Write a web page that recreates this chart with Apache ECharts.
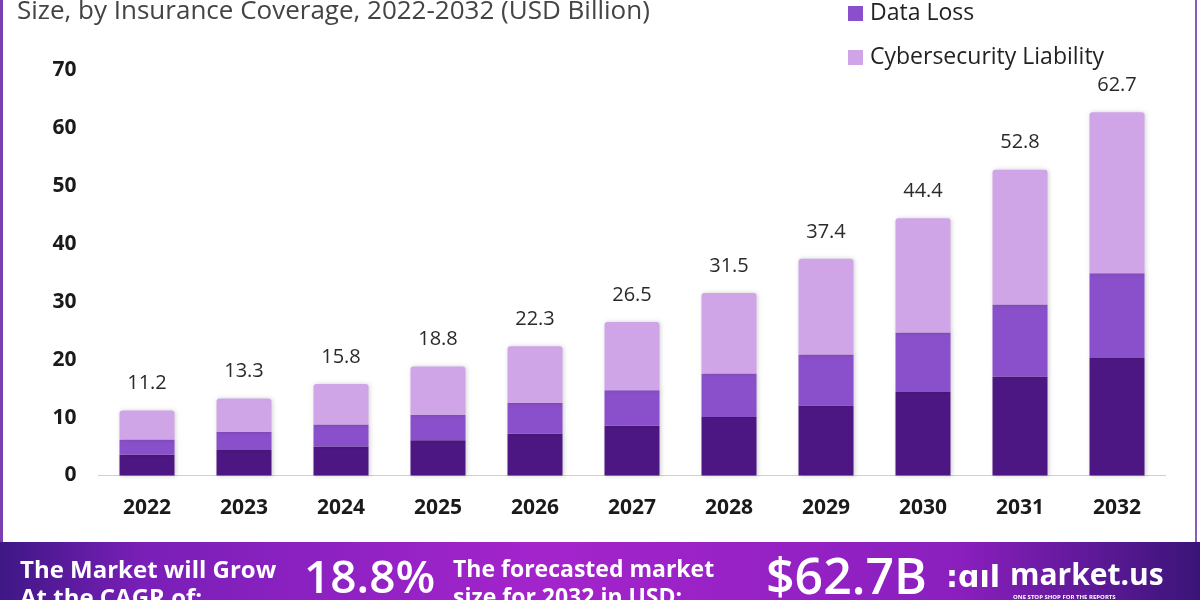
<!DOCTYPE html>
<html>
<head>
<meta charset="utf-8">
<script src="https://cdn.jsdelivr.net/npm/echarts@6/dist/echarts.min.js"></script>
<style>
html,body{margin:0;padding:0;background:#fff;}
#chart{width:1200px;height:600px;}
</style>
</head>
<body>
<div id="chart"></div>
<script>
// ---- data ----
const years = ['2022','2023','2024','2025','2026','2027','2028','2029','2030','2031','2032'];
const dataBreach = [3.6, 4.4, 5.0, 6.1, 7.2, 8.6, 10.1, 12.1, 14.4, 17.1, 20.3];
const dataLoss = [2.6, 3.1, 3.8, 4.4, 5.3, 6.1, 7.5, 8.8, 10.3, 12.4, 14.6];
const cyberLiability = [5.0, 5.8, 7.0, 8.3, 9.8, 11.8, 13.9, 16.5, 19.7, 23.3, 27.8];
const totals = [11.2, 13.3, 15.8, 18.8, 22.3, 26.5, 31.5, 37.4, 44.4, 52.8, 62.7];
const yTicks = [0, 10, 20, 30, 40, 50, 60, 70];

const chart = echarts.init(document.getElementById('chart'), null, {renderer: 'canvas'});

const barShadow = {shadowColor: 'rgba(0,0,0,0.18)', shadowBlur: 4, shadowOffsetX: 1, shadowOffsetY: 0};

const option = {
  backgroundColor: '#ffffff',
  animation: false,
  title: {
    text: 'Size, by Insurance Coverage, 2022-2032 (USD Billion)',
    left: 12, top: -6,
    textStyle: {fontFamily: 'Open Sans', fontWeight: 'normal', fontSize: 26, color: '#444'}
  },
  legend: {
    data: ['Data Loss', 'Cybersecurity Liability'],
    orient: 'vertical',
    left: 843, top: -3,
    itemWidth: 15, itemHeight: 15, itemGap: 21,
    icon: 'rect',
    textStyle: {fontFamily: 'Open Sans', fontSize: 23, color: '#222', padding: [0,0,0,2]}
  },
  grid: {left: 98.5, right: 34.5, top: 70, bottom: 124.5, containLabel: false},
  xAxis: {
    type: 'category',
    data: years,
    axisLine: {lineStyle: {color: '#d0d0d0', width: 1}},
    axisTick: {show: false},
    axisLabel: {fontFamily: 'Open Sans', fontWeight: 'bold', fontSize: 21, color: '#1a1a1a', margin: 22}
  },
  yAxis: {
    type: 'value',
    min: 0, max: 70, interval: 10,
    splitLine: {show: false},
    axisLine: {show: false},
    axisTick: {show: false},
    axisLabel: {fontFamily: 'Open Sans', fontWeight: 'bold', fontSize: 21, color: '#1a1a1a', margin: 22,
      formatter: v => yTicks.includes(v) ? String(v) : ''}
  },
  series: [
    {name: 'Data Breach', type: 'bar', stack: 'a', barWidth: 55, data: dataBreach,
      itemStyle: Object.assign({color: '#4d1783'}, barShadow)},
    {name: 'Data Loss', type: 'bar', stack: 'a', barWidth: 55, data: dataLoss,
      itemStyle: Object.assign({color: '#8a4fca'}, barShadow)},
    {name: 'Cybersecurity Liability', type: 'bar', stack: 'a', barWidth: 55, data: cyberLiability,
      itemStyle: Object.assign({color: '#d0a5e8', borderRadius: [3,3,0,0]}, barShadow),
      label: {show: true, position: 'top', distance: 17,
        fontFamily: 'Open Sans', fontSize: 20, color: '#2a2a2a',
        formatter: p => totals[p.dataIndex].toFixed(1)}}
  ],
  graphic: [
    {type: 'rect', left: 0, top: 0, shape: {width: 3, height: 545}, style: {fill: '#7a3fb0'}},
    {type: 'rect', left: 1195, top: 0, shape: {width: 2, height: 545}, style: {fill: '#8a5cb8'}},
    {type: 'rect', left: 0, top: 542, shape: {width: 1200, height: 58},
      style: {fill: new echarts.graphic.LinearGradient(0, 0, 1, 0, [
        {offset: 0, color: '#3e1785'},
        {offset: 0.12, color: '#7a1fb8'},
        {offset: 0.45, color: '#a424cc'},
        {offset: 0.8, color: '#8a1fbe'},
        {offset: 1, color: '#3a1478'}
      ])}},
    {type: 'text', left: 20, top: 559, style: {text: 'The Market will Grow', fill: '#fff', font: 'bold 24px "Open Sans"'}},
    {type: 'text', left: 20, top: 587, style: {text: 'At the CAGR of:', fill: '#fff', font: 'bold 24px "Open Sans"'}},
    {type: 'text', left: 304, top: 557, style: {text: '18.8%', fill: '#fff', font: '600 46px "Open Sans"'}},
    {type: 'text', left: 453, top: 559, style: {text: 'The forecasted market', fill: '#fff', font: 'bold 23px "Open Sans"'}},
    {type: 'text', left: 453, top: 587, style: {text: 'size for 2032 in USD:', fill: '#fff', font: 'bold 23px "Open Sans"'}},
    {type: 'text', left: 766, top: 555, style: {text: '$62.7B', fill: '#fff', font: '600 50px "Open Sans"'}},
    {type: 'text', left: 946, top: 564, style: {text: ':ɑıl', fill: '#fff', font: 'bold 30px "DejaVu Sans"'}},
    {type: 'text', left: 1010, top: 561, style: {text: 'market.us', fill: '#fff', font: 'bold 30px "Open Sans"'}},
    {type: 'text', left: 1013, top: 594, style: {text: 'ONE STOP SHOP FOR THE REPORTS', fill: '#fff', font: 'bold 6px "Open Sans"'}}
  ]
};
chart.setOption(option);
</script>
</body>
</html>
